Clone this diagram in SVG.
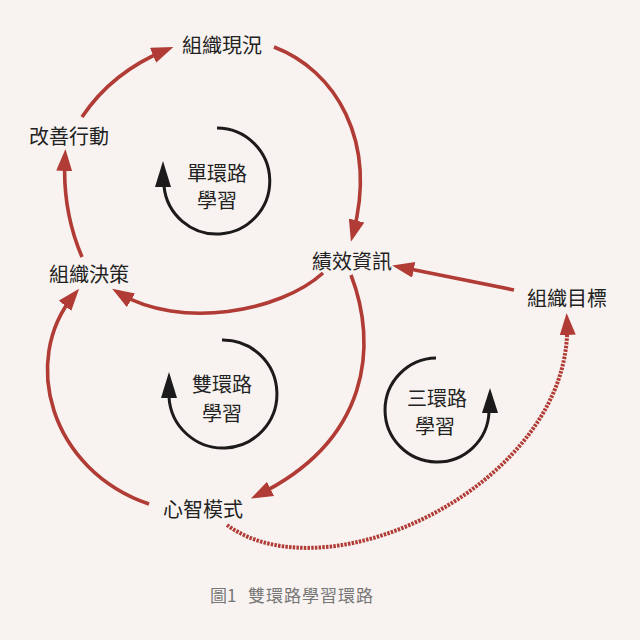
<svg xmlns="http://www.w3.org/2000/svg" width="640" height="640" viewBox="0 0 640 640">
<style>
.lbl{font-family:"Noto Sans CJK TC","Noto Sans CJK SC",sans-serif;font-size:20px;fill:#222;text-anchor:middle;dominant-baseline:central}
.cap{font-family:"Noto Sans CJK TC","Noto Sans CJK SC",sans-serif;font-size:17px;fill:#777;dominant-baseline:central}
.red{fill:none;stroke:#b13b35;stroke-width:3.6}
.dash{fill:none;stroke:#b13b35;stroke-width:4;stroke-dasharray:2.5 1.2}
.blk{fill:none;stroke:#1c1a1a;stroke-width:3}
.bh{fill:#1c1a1a}
</style>
<defs>
<marker id="ah" markerUnits="userSpaceOnUse" markerWidth="24" markerHeight="18" refX="14" refY="8" orient="auto">
<path d="M0,0 L22,8 L0,16 Z" fill="#b13b35"/>
</marker>
</defs>
<rect x="0" y="0" width="640" height="640" fill="#f8f3f0"/>
<g id="connectors">
<path class="red" d="M82,117 Q112,72 166,50" marker-end="url(#ah)"/>
<path class="red" d="M274,47 C335,70 378,140 353,234" marker-end="url(#ah)"/>
<path class="red" d="M82,257 Q62,210 65,157" marker-end="url(#ah)"/>
<path class="red" d="M323,273 C280,312 180,330 119,293" marker-end="url(#ah)"/>
<path class="red" d="M351,275 C378,345 370,440 258,495" marker-end="url(#ah)"/>
<path class="red" d="M149,504 C50,470 20,360 74,295" marker-end="url(#ah)"/>
<path class="red" d="M514,290 L400,267" marker-end="url(#ah)"/>
<path class="dash" d="M227,525 C330,600 575,480 567,321" marker-end="url(#ah)"/>
</g>
<g id="loop-single">
<path class="blk" d="M217,128 A53,53 0 1 1 164,186"/>
<polygon class="bh" points="163,161 155,187 171,187"/>
<text class="lbl" x="217" y="172">單環路</text>
<text class="lbl" x="217" y="199">學習</text>
</g>
<g id="loop-double">
<path class="blk" d="M222,340 A54,54 0 1 1 169,397"/>
<polygon class="bh" points="169,372 161,398 177,398"/>
<text class="lbl" x="222" y="383">雙環路</text>
<text class="lbl" x="222" y="412">學習</text>
</g>
<g id="loop-triple">
<path class="blk" d="M436,358 A52,52 0 1 0 489,412"/>
<polygon class="bh" points="490,388 482,413 498,413"/>
<text class="lbl" x="437" y="397">三環路</text>
<text class="lbl" x="435" y="425">學習</text>
</g>
<g id="node-status"><text class="lbl" x="222" y="44">組織現況</text></g>
<g id="node-action"><text class="lbl" x="69" y="135">改善行動</text></g>
<g id="node-decision"><text class="lbl" x="89" y="273">組織決策</text></g>
<g id="node-info"><text class="lbl" x="352" y="260">績效資訊</text></g>
<g id="node-goal"><text class="lbl" x="567" y="297">組織目標</text></g>
<g id="node-mental"><text class="lbl" x="203" y="508">心智模式</text></g>
<g id="caption">
<text class="cap" x="210" y="594">圖1</text>
<text class="cap" x="248" y="594" textLength="125" lengthAdjust="spacing">雙環路學習環路</text>
</g>
</svg>
